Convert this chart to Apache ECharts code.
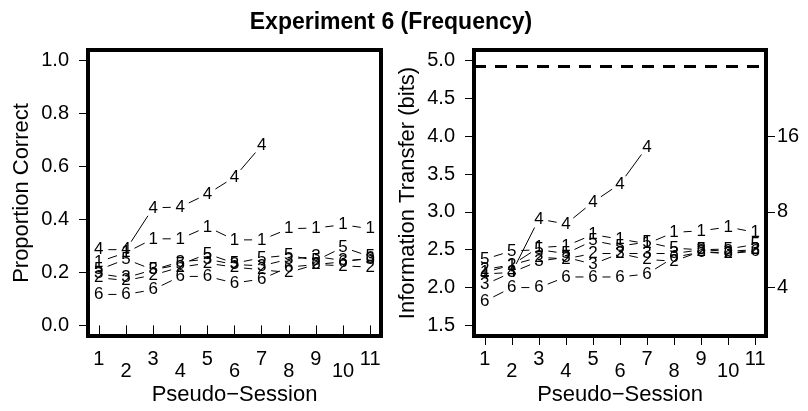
<!DOCTYPE html>
<html>
<head>
<meta charset="utf-8">
<script src="https://cdn.jsdelivr.net/npm/echarts@6/dist/echarts.min.js"></script>
<style>html,body{margin:0;padding:0;background:#fff;}#c{width:808px;height:411px;}</style>
</head>
<body>
<div id="c"></div>
<script>
const sessions = [1, 2, 3, 4, 5, 6, 7, 8, 9, 10, 11];
const xTicksOdd = [1, 3, 5, 7, 9, 11];
const xTicksEven = [2, 4, 6, 8, 10];
const pcTicks = [0, 0.2, 0.4, 0.6, 0.8, 1.0];
const itTicks = [1.5, 2.0, 2.5, 3.0, 3.5, 4.0, 4.5, 5.0];
const itRightTicks = [2, 3, 4]; // log2 of 4, 8, 16
const maxBits = 4.93;

// Proportion correct, per group (label = group number)
const pc1 = [0.24, 0.275, 0.327, 0.327, 0.372, 0.323, 0.323, 0.365, 0.368, 0.38, 0.365];
const pc2 = [0.18, 0.17, 0.19, 0.22, 0.235, 0.22, 0.21, 0.2, 0.23, 0.225, 0.22];
const pc3 = [0.195, 0.18, 0.21, 0.24, 0.25, 0.23, 0.225, 0.25, 0.26, 0.245, 0.25];
const pc4 = [0.286, 0.286, 0.444, 0.447, 0.496, 0.56, 0.68];
const pc5 = [0.21, 0.25, 0.21, 0.23, 0.27, 0.235, 0.255, 0.265, 0.245, 0.295, 0.26];
const pc6 = [0.117, 0.117, 0.135, 0.185, 0.185, 0.16, 0.175, 0.22, 0.23, 0.24, 0.255];

// Information transfer (bits)
const it1 = [2.2, 2.3, 2.53, 2.55, 2.7, 2.64, 2.58, 2.73, 2.75, 2.8, 2.73];
const it2 = [2.24, 2.3, 2.4, 2.38, 2.45, 2.45, 2.37, 2.35, 2.48, 2.45, 2.5];
const it3 = [2.04, 2.2, 2.35, 2.4, 2.31, 2.45, 2.45, 2.45, 2.5, 2.48, 2.5];
const it4 = [2.18, 2.2, 2.906, 2.84, 3.13, 3.37, 3.86];
const it5 = [2.375, 2.485, 2.5, 2.45, 2.62, 2.55, 2.6, 2.52, 2.5, 2.51, 2.57];
const it6 = [1.82, 2.0, 2.0, 2.14, 2.14, 2.14, 2.18, 2.4, 2.47, 2.45, 2.48];

const pcGroups = [pc1, pc2, pc3, pc4, pc5, pc6];
const itGroups = [it1, it2, it3, it4, it5, it6];

const FONT = 'Liberation Sans, Arial, sans-serif';
const GAP = 9.5;

function items(ys) {
  return ys.map((v, i) => [sessions[i], v,
    i < ys.length - 1 ? sessions[i + 1] : null,
    i < ys.length - 1 ? ys[i + 1] : null]);
}

function groupSeries(ys, label, gridIdx) {
  return {
    type: 'custom',
    xAxisIndex: gridIdx === 0 ? 0 : 2,
    yAxisIndex: gridIdx === 0 ? 0 : 1,
    data: items(ys),
    encode: { x: 0, y: 1 },
    silent: true,
    z: 5,
    renderItem: function (params, api) {
      const p = api.coord([api.value(0), api.value(1)]);
      const children = [{
        type: 'text',
        style: { text: label, x: p[0], y: p[1], align: 'center', verticalAlign: 'middle',
                 font: '17px ' + FONT, fill: '#000' }
      }];
      const nx = api.value(2), ny = api.value(3);
      if (!isNaN(nx) && !isNaN(ny) && nx !== null) {
        const q = api.coord([nx, ny]);
        const dx = q[0] - p[0], dy = q[1] - p[1];
        const len = Math.sqrt(dx * dx + dy * dy);
        if (len > 2 * GAP + 1) {
          const ux = dx / len, uy = dy / len;
          children.push({
            type: 'line',
            shape: { x1: p[0] + ux * GAP, y1: p[1] + uy * GAP, x2: q[0] - ux * GAP, y2: q[1] - uy * GAP },
            style: { stroke: '#000', lineWidth: 1 }
          });
        }
      }
      return { type: 'group', children: children };
    }
  };
}

const tickStyle = { show: true, length: 9, inside: false, lineStyle: { color: '#000', width: 1 } };
const labStyle = { color: '#000', fontSize: 20, fontFamily: FONT };
const nameStyle = { color: '#000', fontSize: 22, fontFamily: FONT };

function xAxes(gridIdx) {
  return [{
    type: 'value', gridIndex: gridIdx, min: 0.6, max: 11.4, position: 'bottom',
    axisLine: { show: false }, splitLine: { show: false },
    axisTick: Object.assign({ customValues: sessions }, tickStyle),
    axisLabel: Object.assign({ customValues: xTicksOdd, margin: 13 }, labStyle),
    name: 'Pseudo\u2212Session', nameLocation: 'middle', nameGap: 48, nameTextStyle: nameStyle
  }, {
    type: 'value', gridIndex: gridIdx, min: 0.6, max: 11.4, position: 'bottom',
    axisLine: { show: false }, splitLine: { show: false }, axisTick: { show: false },
    axisLabel: Object.assign({ customValues: xTicksEven, margin: 25 }, labStyle)
  }];
}

const option = {
  animation: false,
  backgroundColor: '#fff',
  title: {
    text: 'Experiment 6 (Frequency)', left: 386, textAlign: 'center', top: 6,
    textStyle: { fontSize: 23, fontWeight: 'bold', color: '#000', fontFamily: FONT }
  },
  grid: [
    { left: 88, top: 50, width: 293, height: 286, show: true, borderColor: '#000', borderWidth: 4, backgroundColor: 'transparent' },
    { left: 474, top: 50, width: 292, height: 286, show: true, borderColor: '#000', borderWidth: 4, backgroundColor: 'transparent' }
  ],
  xAxis: xAxes(0).concat(xAxes(1)),
  yAxis: [{
    type: 'value', gridIndex: 0, min: -0.04, max: 1.04,
    axisLine: { show: false }, splitLine: { show: false },
    axisTick: Object.assign({ customValues: pcTicks }, tickStyle),
    axisLabel: Object.assign({ customValues: pcTicks, margin: 19, formatter: v => v.toFixed(1) }, labStyle),
    name: 'Proportion Correct', nameLocation: 'middle', nameGap: 55, nameTextStyle: nameStyle
  }, {
    type: 'value', gridIndex: 1, min: 1.36, max: 5.14,
    axisLine: { show: false }, splitLine: { show: false },
    axisTick: Object.assign({ customValues: itTicks }, tickStyle),
    axisLabel: Object.assign({ customValues: itTicks, margin: 19, formatter: v => v.toFixed(1) }, labStyle),
    name: 'Information Transfer (bits)', nameLocation: 'middle', nameGap: 55, nameTextStyle: nameStyle
  }, {
    type: 'value', gridIndex: 1, min: 1.36, max: 5.14, position: 'right',
    axisLine: { show: false }, splitLine: { show: false },
    axisTick: Object.assign({ customValues: itRightTicks }, tickStyle),
    axisLabel: Object.assign({ customValues: itRightTicks, margin: 11, formatter: v => String(Math.round(Math.pow(2, v))) }, labStyle)
  }],
  series: []
};

pcGroups.forEach((g, i) => option.series.push(groupSeries(g, String(i + 1), 0)));
itGroups.forEach((g, i) => option.series.push(groupSeries(g, String(i + 1), 1)));

option.series.push({
  type: 'line', xAxisIndex: 2, yAxisIndex: 1, data: [], silent: true,
  markLine: {
    silent: true, symbol: ['none', 'none'], label: { show: false },
    lineStyle: { color: '#000', width: 3, type: [12, 9] },
    data: [{ yAxis: maxBits }]
  }
});

const chart = echarts.init(document.getElementById('c'), null, { renderer: 'canvas' });
chart.setOption(option);
</script>
</body>
</html>
